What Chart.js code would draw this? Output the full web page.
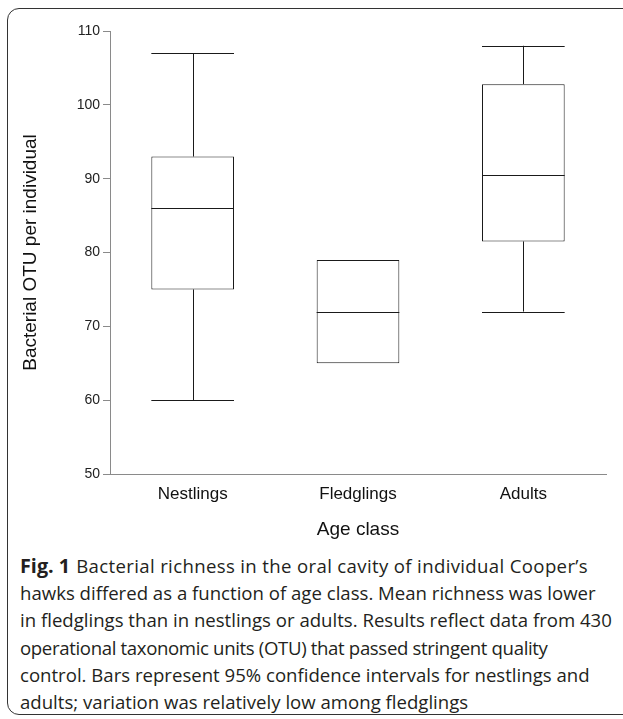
<!DOCTYPE html>
<html>
<head>
<meta charset="utf-8">
<script src="https://cdn.jsdelivr.net/npm/chart.js@4"></script>
<style>
  html, body { margin: 0; padding: 0; background: #fff; overflow: hidden; }
  body { width: 623px; height: 719px; position: relative; }
  #frame {
    position: absolute; left: 7px; top: 8px; width: 660px; height: 707px;
    border: 1.6px solid #333; border-radius: 12px; box-sizing: border-box;
  }
  #chartBox { position: absolute; left: 0; top: 0; width: 623px; height: 550px; }
  #caption {
    position: absolute; left: 20px; top: 552px;
    font-family: "Open Sans", sans-serif; font-size: 18.6px; line-height: 27.2px;
    color: #231f20; white-space: nowrap;
  }
  #caption b { font-weight: 700; font-size: 19.8px; margin-right: 6px; }
  #caption .l1 { letter-spacing: 0.35px; }
  #caption .l4 { letter-spacing: -0.35px; }
</style>
</head>
<body>
<div id="frame"></div>
<div id="chartBox"><canvas id="boxChart" width="623" height="550"></canvas></div>
<div id="caption">
  <b>Fig. 1</b><span class="l1">Bacterial richness in the oral cavity of individual Cooper’s</span><br>
  hawks differed as a function of age class. Mean richness was lower<br>
  in fledglings than in nestlings or adults. Results reflect data from 430<br>
  <span class="l4">operational taxonomic units (OTU) that passed stringent quality</span><br>
  control. Bars represent 95% confidence intervals for nestlings and<br>
  adults; variation was relatively low among fledglings
</div>
<script>
// Box plot data
const ageClasses = ['Nestlings', 'Fledglings', 'Adults'];
const whiskerLow = [60, null, 72];
const boxLow = [75, 65, 81.5];
const medians = [86, 72, 90.5];
const boxHigh = [93, 79, 102.8];
const whiskerHigh = [107, null, 108];
const yTicks = [50, 60, 70, 80, 90, 100, 110];

// Whiskers and median lines, drawn with the chart's own scales
const boxExtras = {
  id: 'boxExtras',
  afterDatasetsDraw(chart) {
    const ctx = chart.ctx;
    const x = chart.scales.x;
    const y = chart.scales.y;
    const bars = chart.getDatasetMeta(0).data;
    ctx.save();
    ctx.strokeStyle = '#1a1a1a';
    ctx.lineWidth = 1;
    bars.forEach(function(bar, i) {
      const cx = x.getPixelForValue(i);
      const half = bar.width / 2;
      const hline = function(v) {
        const py = Math.round(y.getPixelForValue(v)) + 0.5;
        ctx.beginPath();
        ctx.moveTo(cx - half, py);
        ctx.lineTo(cx + half, py);
        ctx.stroke();
      };
      const vline = function(v1, v2) {
        const px = Math.round(cx) + 0.5;
        ctx.beginPath();
        ctx.moveTo(px, y.getPixelForValue(v1));
        ctx.lineTo(px, y.getPixelForValue(v2));
        ctx.stroke();
      };
      hline(medians[i]);
      if (whiskerHigh[i] !== null) {
        vline(boxHigh[i], whiskerHigh[i]);
        hline(whiskerHigh[i]);
      }
      if (whiskerLow[i] !== null) {
        vline(boxLow[i], whiskerLow[i]);
        hline(whiskerLow[i]);
      }
    });
    ctx.restore();
  }
};

const boxChart = new Chart(
  document.getElementById('boxChart'),
  {
    type: 'bar',
    data: {
      labels: ageClasses,
      datasets: [{
        data: boxLow.map(function(v, i) { return [v, boxHigh[i]]; }),
        backgroundColor: '#ffffff',
        borderColor: '#1a1a1a',
        borderWidth: 1,
        borderSkipped: false,
        barPercentage: 0.5,
        categoryPercentage: 1.0
      }]
    },
    options: {
      responsive: false,
      animation: false,
      events: [],
      layout: { padding: { top: 31, right: 17, left: 0, bottom: 0 } },
      plugins: {
        legend: { display: false },
        tooltip: { enabled: false }
      },
      scales: {
        y: {
          min: 50,
          max: 110,
          afterBuildTicks: function(scale) {
            scale.ticks = yTicks.map(function(v) { return { value: v }; });
          },
          afterFit: function(scale) { scale.width = 110; },
          grid: { drawOnChartArea: false, drawTicks: true, tickLength: 7, color: '#8a8a8a' },
          border: { color: '#8a8a8a', width: 1 },
          ticks: {
            color: '#222',
            padding: 3,
            font: { family: 'Liberation Sans', size: 14 }
          },
          title: {
            display: true,
            text: 'Bacterial OTU per individual',
            color: '#111',
            padding: { top: 19, bottom: 0 },
            font: { family: 'Liberation Sans', size: 19 }
          }
        },
        x: {
          afterFit: function(scale) { scale.height = 76; },
          grid: { display: false, drawTicks: false },
          border: { color: '#8a8a8a', width: 1 },
          ticks: {
            color: '#111',
            padding: 10,
            font: { family: 'Liberation Sans', size: 17 }
          },
          title: {
            display: true,
            text: 'Age class',
            color: '#111',
            padding: { top: 0, bottom: 9 },
            font: { family: 'Liberation Sans', size: 19 }
          }
        }
      }
    },
    plugins: [boxExtras]
  }
);
</script>
</body>
</html>
